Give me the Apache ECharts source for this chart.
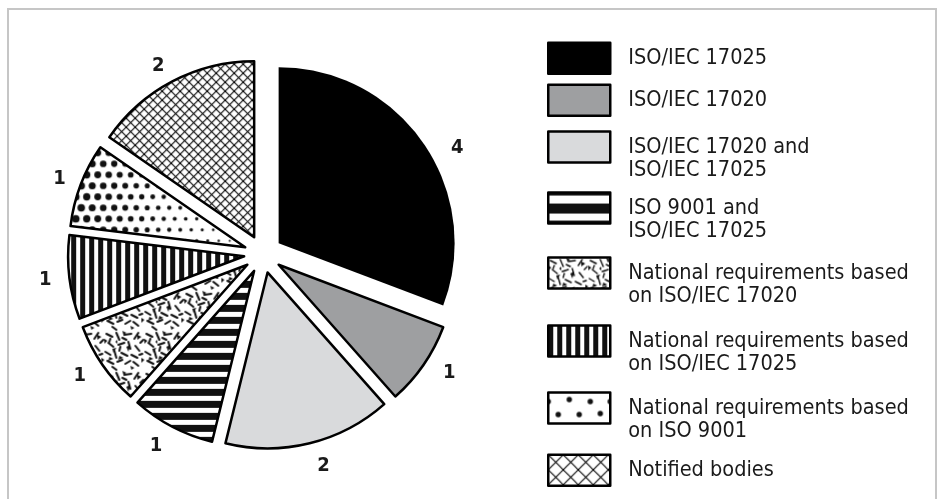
<!DOCTYPE html>
<html><head><meta charset="utf-8">
<script src="https://cdn.jsdelivr.net/npm/echarts@6/dist/echarts.min.js"></script>
<style>html,body{margin:0;padding:0;background:#fff}#c{width:938px;height:499px}</style>
</head><body><div id="c"></div>
<script>
// ---- data ----
const categories = [
  'ISO/IEC 17025',
  'ISO/IEC 17020',
  'ISO/IEC 17020 and\nISO/IEC 17025',
  'ISO 9001 and\nISO/IEC 17025',
  'National requirements based\non ISO/IEC 17020',
  'National requirements based\non ISO/IEC 17025',
  'National requirements based\non ISO 9001',
  'Notified bodies'
];
const values = [4, 1, 2, 1, 1, 1, 1, 2];

// ---- layout (not data) ----
const legendRowCenters = [57, 99, 147, 208, 273, 341, 408, 469];
const labelLineLen = [-8, 14, 23, 22, 20, 18, 16, 17];
const labelLineLen2 = [34, 8, 2, 0, 0, 0, 0, 0];

// ---- fill textures ----
function tile(w, h, draw) {
  const c = document.createElement('canvas');
  c.width = w; c.height = h;
  const g = c.getContext('2d');
  g.fillStyle = '#fff'; g.fillRect(0, 0, w, h);
  g.fillStyle = '#111'; g.strokeStyle = '#111';
  draw(g, w, h);
  return { image: c, repeat: 'repeat' };
}
const squiggleSegs = [
  [2,3,8,6],[12,2,15,9],[20,4,27,3],[30,8,34,2],[4,12,9,16],[14,14,20,12],[24,11,26,18],[31,15,35,20],
  [1,21,6,24],[10,20,12,27],[17,22,23,25],[27,24,33,27],[3,30,9,33],[13,31,18,29],[21,33,26,30],[29,31,34,35],
  [6,8,5,11],[18,7,22,9],[36,12,39,9],[8,36,12,39],[16,16,15,20],[35,24,38,23]
];
const squiggleTris = [
  [8,18,12,17,9,22],[22,16,26,14,24,21],[33,4,37,6,33,9],[15,25,19,27,14,29],[5,26,9,28,4,30],
  [26,35,30,37,27,39],[37,27,40,29,37,32],[0,8,3,10,0,13],[18,0,22,2,19,4],[11,11,13,9,13,13]
];
function squiggle(lw) {
  return g => {
    g.lineWidth = lw; g.lineCap = 'round';
    squiggleSegs.forEach(s => { g.beginPath(); g.moveTo(s[0], s[1]); g.lineTo(s[2], s[3]); g.stroke(); });
    squiggleTris.forEach(t => { g.beginPath(); g.moveTo(t[0], t[1]); g.lineTo(t[2], t[3]); g.lineTo(t[4], t[5]); g.closePath(); g.fill(); });
  };
}
function hatch(p) {
  return tile(p, p, (g, w, h) => {
    g.lineWidth = 1.1; g.strokeStyle = '#000';
    for (let k = -1; k <= 1; k++) {
      g.beginPath(); g.moveTo(k * w, 0); g.lineTo(k * w + w, h); g.stroke();
      g.beginPath(); g.moveTo(k * w + w, 0); g.lineTo(k * w, h); g.stroke();
    }
  });
}
const sliceFills = [
  '#000000',
  '#9e9fa1',
  '#d9dadc',
  tile(12, 12, g => g.fillRect(0, 0, 12, 7)),
  tile(40, 40, squiggle(2)),
  tile(9, 9, g => g.fillRect(0, 0, 5, 9)),
  tile(300, 22, g => {
    for (let row = 0; row < 2; row++) {
      const y = row === 0 ? 5.5 : 16.5;
      for (let x = row === 0 ? 5.5 : 0; x < 300; x += 11) {
        const r = Math.max(0.9, Math.min(3.9, 3.9 - (x - 90) * 3 / 165));
        g.beginPath(); g.arc(x, y, r, 0, Math.PI * 2); g.fill();
      }
    }
  }),
  hatch(9)
];
const legendFills = [
  '#000000',
  '#9e9fa1',
  '#d9dadc',
  tile(62, 31, g => { g.fillRect(0, 0, 62, 3); g.fillRect(0, 11, 62, 10); g.fillRect(0, 28, 62, 3); }),
  tile(40, 40, squiggle(1.4)),
  tile(9, 9, g => g.fillRect(0, 0, 5, 9)),
  tile(62, 31, g => {
    [[0,9],[21,7],[42,9],[10,22],[31,22],[52,21],[62,9]].forEach(p => { g.beginPath(); g.arc(p[0], p[1], 2.7, 0, Math.PI * 2); g.fill(); });
  }),
  hatch(15)
];

const FONT = '"DejaVu Sans Condensed", "Liberation Sans Narrow", sans-serif';
const borderW = 2.5;

const pieData = categories.map((name, i) => ({
  name,
  value: values[i],
  selected: true,
  itemStyle: { color: sliceFills[i], borderColor: '#000', borderWidth: i === 0 ? 0 : borderW },
  labelLine: { length: labelLineLen[i], length2: labelLineLen2[i] }
}));

const legends = categories.map((name, i) => {
  const twoLines = name.indexOf('\n') >= 0;
  return {
    orient: 'vertical',
    left: 547,
    top: legendRowCenters[i] - (twoLines ? 34.5 : 15.5),
    padding: 0,
    itemWidth: 62, itemHeight: 31,
    icon: 'rect',
    selectedMode: false,
    itemStyle: { borderColor: '#000', borderWidth: borderW },
    textStyle: {
      fontFamily: FONT, fontSize: 21.5, lineHeight: 23, color: '#1a1a1a',
      padding: twoLines ? [23, 0, 0, 13] : [0, 0, 0, 13],
      rich: { z: {} }
    },
    data: [{ name, itemStyle: { color: legendFills[i] } }]
  };
});

const chart = echarts.init(document.getElementById('c'), null, { renderer: 'canvas' });
chart.setOption({
  animation: false,
  backgroundColor: '#fff',
  graphic: [{
    type: 'rect', silent: true,
    shape: { x: 8, y: 9, width: 928, height: 510 },
    style: { fill: 'none', stroke: '#c6c6c6', lineWidth: 2 }
  }],
  legend: legends,
  series: [{
    type: 'pie',
    center: [263, 254],
    radius: 176,
    startAngle: 90,
    clockwise: true,
    selectedMode: 'multiple',
    selectedOffset: 19,
    avoidLabelOverlap: false,
    emphasis: { disabled: true },
    label: {
      show: true, position: 'outside', formatter: '{c}',
      fontFamily: FONT, fontWeight: 'bold', fontSize: 20, color: '#1a1a1a',
      distanceToLabelLine: 0
    },
    labelLine: { show: false },
    data: pieData
  }]
});
</script></body></html>
